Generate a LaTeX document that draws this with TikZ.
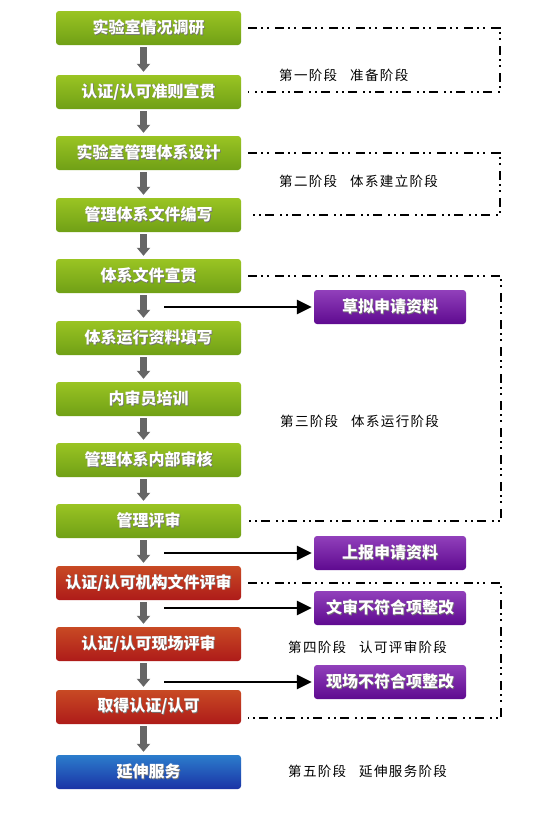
\documentclass[tikz,border=0pt]{standalone}
\usepackage{fontspec}
\newfontfamily\cjk{Noto Sans CJK SC}
\newfontfamily\cjkstage[LetterSpace=10]{Noto Sans CJK SC}
\usetikzlibrary{arrows.meta}
\newcommand\shtext[1]{\leavevmode\rlap{\kern0.8pt\raisebox{-0.8pt}{\textcolor{black!55}{#1}}}#1}
\definecolor{gtop}{HTML}{9AC423}
\definecolor{gbot}{HTML}{70A016}
\definecolor{rtop}{HTML}{C84A24}
\definecolor{rbot}{HTML}{AE1B19}
\definecolor{ptop}{HTML}{9140BB}
\definecolor{pbot}{HTML}{5F0A90}
\definecolor{btop}{HTML}{2C7DCC}
\definecolor{bbot}{HTML}{1A33A6}
\definecolor{arrgray}{HTML}{666666}
\tikzset{
  basebox/.style={rounded corners=3pt, minimum width=185pt, minimum height=34pt, inner sep=0pt,
    text=white, font=\cjk\bfseries\fontsize{16}{17}\selectfont},
  gbox/.style={basebox, top color=gtop, bottom color=gbot},
  rbox/.style={basebox, top color=rtop, bottom color=rbot},
  bbox/.style={basebox, top color=btop, bottom color=bbot},
  pbox/.style={basebox, minimum width=152pt, top color=ptop, bottom color=pbot},
  downarrow/.style={draw=arrgray, line width=7pt, shorten <=2pt, shorten >=3pt,
    -{Triangle[width=13pt,length=8pt,fill=arrgray]}},
  sidearrow/.style={draw=black, line width=2.6pt, shorten >=2pt,
    -{Triangle[width=14pt,length=15pt]}},
  stageline/.style={draw=black, line width=2pt,
    dash pattern=on 9pt off 4pt on 2pt off 4pt on 2pt off 6pt},
  stagetext/.style={anchor=west, inner sep=0pt, font=\cjkstage\fontsize{13.5}{14}\selectfont}
}
\begin{document}
\begin{tikzpicture}[x=1pt,y=-1pt]
\useasboundingbox (0,0) rectangle (549,819);
\fill[white] (0,0) rectangle (549,819);
% left column
\node[gbox] (b1) at (148.5,28) {\shtext{实验室情况调研}};
\node[gbox] (b2) at (148.5,92) {\shtext{认证/认可准则宣贯}};
\node[gbox] (b3) at (148.5,153) {\shtext{实验室管理体系设计}};
\node[gbox] (b4) at (148.5,215) {\shtext{管理体系文件编写}};
\node[gbox] (b5) at (148.5,276) {\shtext{体系文件宣贯}};
\node[gbox] (b6) at (148.5,338) {\shtext{体系运行资料填写}};
\node[gbox] (b7) at (148.5,399) {\shtext{内审员培训}};
\node[gbox] (b8) at (148.5,460) {\shtext{管理体系内部审核}};
\node[gbox] (b9) at (148.5,521) {\shtext{管理评审}};
\node[rbox] (b10) at (148.5,583) {\shtext{认证/认可机构文件评审}};
\node[rbox] (b11) at (148.5,644) {\shtext{认证/认可现场评审}};
\node[rbox] (b12) at (148.5,707) {\shtext{取得认证/认可}};
\node[bbox] (b13) at (148.5,772) {\shtext{延伸服务}};
% purple boxes
\node[pbox] (p1) at (390,307) {\shtext{草拟申请资料}};
\node[pbox] (p2) at (390,553) {\shtext{上报申请资料}};
\node[pbox] (p3) at (390,608) {\shtext{文审不符合项整改}};
\node[pbox] (p4) at (390,682) {\shtext{现场不符合项整改}};
% gray down arrows
\foreach \a/\b in {b1/b2,b2/b3,b3/b4,b4/b5,b5/b6,b6/b7,b7/b8,b8/b9,b9/b10,b10/b11,b11/b12,b12/b13}
  \draw[downarrow] ([xshift=-5pt]\a.south) -- ([xshift=-5pt]\b.north);
% side arrows
\coordinate (s1) at (164,307);
\coordinate (s2) at (164,553);
\coordinate (s3) at (164,608);
\coordinate (s4) at (164,682);
\draw[sidearrow] (s1) -- (p1.west);
\draw[sidearrow] (s2) -- (p2.west);
\draw[sidearrow] (s3) -- (p3.west);
\draw[sidearrow] (s4) -- (p4.west);
% stage brackets
\draw[stageline] ([xshift=7pt]b1.east) -| (500,60) |- ([xshift=7pt]b2.east);
\draw[stageline] ([xshift=7pt]b3.east) -| (500,185) |- ([xshift=7pt]b4.east);
\draw[stageline] ([xshift=7pt]b5.east) -| (501,400) |- ([xshift=7pt]b9.east);
\draw[stageline] ([xshift=7pt]b10.east) -| (501,650) |- ([xshift=7pt,yshift=-11pt]b12.east);
% stage texts
\node[stagetext] (t1) at (279,75) {第一阶段\hspace{13pt}准备阶段};
\node[stagetext] (t2) at (279,181) {第二阶段\hspace{13pt}体系建立阶段};
\node[stagetext] (t3) at (280,421) {第三阶段\hspace{13pt}体系运行阶段};
\node[stagetext] (t4) at (288,647) {第四阶段\hspace{13pt}认可评审阶段};
\node[stagetext] (t5) at (288,771) {第五阶段\hspace{13pt}延伸服务阶段};
\end{tikzpicture}
\end{document}
